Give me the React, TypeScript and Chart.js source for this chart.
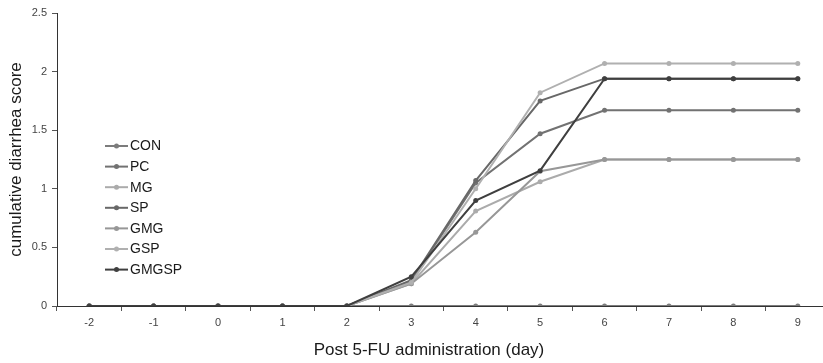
import React, { useEffect, useRef } from "react";
import { Chart, registerables } from "chart.js";

Chart.register(...registerables);

const days = ["-2", "-1", "0", "1", "2", "3", "4", "5", "6", "7", "8", "9"];
const seriesNames = ["CON", "PC", "MG", "SP", "GMG", "GSP", "GMGSP"];
const seriesColors = ["#7c7c7c", "#727272", "#ababab", "#686868", "#979797", "#b0b0b0", "#3f3f3f"];
const CON = [0, 0, 0, 0, 0, 0, 0, 0, 0, 0, 0, 0];
const PC = [0, 0, 0, 0, 0, 0.21, 1.05, 1.47, 1.67, 1.67, 1.67, 1.67];
const MG = [0, 0, 0, 0, 0, 0.19, 0.81, 1.06, 1.25, 1.25, 1.25, 1.25];
const SP = [0, 0, 0, 0, 0, 0.22, 1.07, 1.75, 1.94, 1.94, 1.94, 1.94];
const GMG = [0, 0, 0, 0, 0, 0.19, 0.63, 1.15, 1.25, 1.25, 1.25, 1.25];
const GSP = [0, 0, 0, 0, 0, 0.2, 1.0, 1.82, 2.07, 2.07, 2.07, 2.07];
const GMGSP = [0, 0, 0, 0, 0, 0.25, 0.9, 1.155, 1.94, 1.94, 1.94, 1.94];
const seriesValues = [CON, PC, MG, SP, GMG, GSP, GMGSP];
const yTitle = "cumulative diarrhea score";
const xTitle = "Post 5-FU administration (day)";

const tickFont = "'Liberation Sans Narrow', 'Arial Narrow', 'Liberation Sans', Arial, sans-serif";
const mainFont = "'Liberation Sans', Arial, sans-serif";

export default function App() {
  const ref = useRef<HTMLCanvasElement | null>(null);

  useEffect(() => {
    if (!ref.current) return;
    const legendPlugin = {
      id: "insideLegend",
      afterDraw(chart: any) {
        const ctx = chart.ctx;
        ctx.save();
        const x0 = 105;
        const y0 = 146;
        const gap = 20.6;
        seriesNames.forEach((name, i) => {
          const y = y0 + i * gap;
          ctx.strokeStyle = seriesColors[i];
          ctx.lineWidth = 2;
          ctx.beginPath();
          ctx.moveTo(x0, y);
          ctx.lineTo(x0 + 23, y);
          ctx.stroke();
          ctx.fillStyle = seriesColors[i];
          ctx.beginPath();
          ctx.arc(x0 + 11.5, y, 2.5, 0, Math.PI * 2);
          ctx.fill();
          ctx.fillStyle = "#1a1a1a";
          ctx.font = `14px ${mainFont}`;
          ctx.textBaseline = "middle";
          ctx.textAlign = "left";
          ctx.fillText(name, x0 + 25, y + 0.5);
        });
        ctx.restore();
      },
    };
    const titlesPlugin = {
      id: "axisTitles",
      afterDraw(chart: any) {
        const ctx = chart.ctx;
        const area = chart.chartArea;
        ctx.save();
        ctx.fillStyle = "#1a1a1a";
        ctx.font = `17px ${mainFont}`;
        ctx.textAlign = "center";
        ctx.textBaseline = "middle";
        ctx.fillText(xTitle, 429, 350);
        ctx.translate(16, (area.top + area.bottom) / 2);
        ctx.rotate(-Math.PI / 2);
        ctx.fillText(yTitle, 0, 0);
        ctx.restore();
      },
    };
    const n = seriesNames.length;
    const chart = new Chart(ref.current, {
      type: "line",
      data: {
        labels: days,
        datasets: seriesNames.map((name, i) => ({
          label: name,
          data: seriesValues[i],
          borderColor: seriesColors[i],
          backgroundColor: seriesColors[i],
          pointBackgroundColor: seriesColors[i],
          pointBorderColor: seriesColors[i],
          borderWidth: 2,
          pointRadius: 2.5,
          pointBorderWidth: 0,
          tension: 0,
          fill: false,
          order: n - 1 - i,
        })),
      },
      options: {
        animation: false,
        responsive: false,
        events: [],
        layout: { padding: { top: 13, left: 0, right: 0, bottom: 0 } },
        plugins: {
          legend: { display: false },
          tooltip: { enabled: false },
        },
        scales: {
          x: {
            type: "category",
            offset: true,
            grid: {
              offset: true,
              drawOnChartArea: false,
              drawTicks: true,
              tickLength: 5,
              color: "#555",
            },
            border: { display: true, color: "#333", width: 1 },
            ticks: {
              color: "#444",
              font: { family: tickFont, size: 11 },
              padding: 5,
              maxRotation: 0,
              autoSkip: false,
            },
            afterFit(scale: any) {
              scale.height = 57;
            },
          },
          y: {
            min: 0,
            max: 2.5,
            ticks: {
              stepSize: 0.5,
              color: "#444",
              font: { family: tickFont, size: 11 },
              padding: 5,
              callback: (v: any) => String(Number(v)),
            },
            grid: {
              drawOnChartArea: false,
              drawTicks: true,
              tickLength: 5,
              color: "#555",
            },
            border: { display: true, color: "#333", width: 1 },
            afterFit(scale: any) {
              scale.width = 57;
            },
          },
        },
      },
      plugins: [legendPlugin, titlesPlugin],
    });
    return () => chart.destroy();
  }, []);

  return (
    <div
      style={{
        position: "fixed",
        left: 0,
        top: 0,
        width: 823,
        height: 363,
        overflow: "hidden",
        background: "#fff",
      }}
    >
      <canvas ref={ref} width={834} height={363} style={{ display: "block" }} />
    </div>
  );
}
